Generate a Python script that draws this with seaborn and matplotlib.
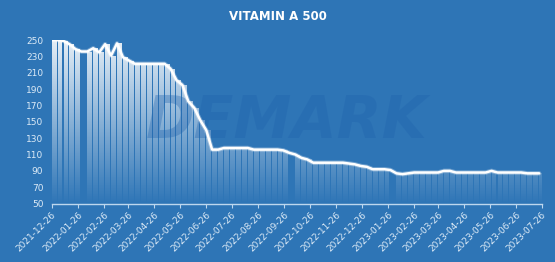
import numpy as np
import pandas as pd
import matplotlib
matplotlib.use('Agg')
import matplotlib.pyplot as plt
import matplotlib.dates as mdates
from matplotlib.path import Path
import seaborn as sns

title = "VITAMIN A 500"
start_date = "2021-12-26"
price = [250, 250, 249, 245, 239, 236, 236, 240, 235, 245, 231, 246, 229, 225, 221,
         221, 221, 221, 221, 221, 215, 201, 195, 175, 167, 152, 140, 116, 116,
         118, 118, 118, 118, 118, 116, 116, 116, 116, 116, 115, 112, 110, 106, 104,
         100, 100, 100, 100, 100, 100, 99, 98, 96, 95, 92, 92, 92, 91, 87, 86, 87,
         88, 88, 88, 88, 88, 90, 90, 88, 88, 88, 88, 88, 88, 90, 88, 88, 88, 88, 88,
         87, 87, 87]
missing_bar_dates = ["2022-01-30", "2022-10-02", "2023-01-29"]
tick_labels = ["2021-12-26", "2022-01-26", "2022-02-26", "2022-03-26", "2022-04-26",
               "2022-05-26", "2022-06-26", "2022-07-26", "2022-08-26", "2022-09-26",
               "2022-10-26", "2022-11-26", "2022-12-26", "2023-01-26", "2023-02-26",
               "2023-03-26", "2023-04-26", "2023-05-26", "2023-06-26", "2023-07-26"]
y_ticks = list(range(50, 251, 20))

BG = "#2E75B6"
TXT = "#DDEBF7"

sns.set_style("white", {"axes.facecolor": BG, "figure.facecolor": BG})
plt.rcParams['font.family'] = ['DejaVu Sans']

dates = pd.date_range(start_date, periods=len(price), freq="7D")
df = pd.DataFrame({"date": dates, "price": price})
missing = pd.to_datetime(missing_bar_dates)
bar_df = df[~df["date"].isin(missing)]

fig = plt.figure(figsize=(5.55, 2.62), dpi=100)
fig.patch.set_facecolor(BG)
ax = fig.add_axes([0.093, 0.223, 0.883, 0.624])
ax.set_facecolor(BG)

xmin = pd.Timestamp(tick_labels[0])
xmax = pd.Timestamp(tick_labels[-1])
ymin, ymax = 50, 250

bars = ax.bar(bar_df["date"], bar_df["price"] - ymin, bottom=ymin, width=5.8,
              align="edge", color="none", edgecolor="none", zorder=1)

# gradient fill clipped to bars
verts, codes = [], []
for r in bars.patches:
    x0, y0, w, h = r.get_x(), r.get_y(), r.get_width(), r.get_height()
    verts += [(x0, y0), (x0 + w, y0), (x0 + w, y0 + h), (x0, y0 + h), (x0, y0)]
    codes += [Path.MOVETO, Path.LINETO, Path.LINETO, Path.LINETO, Path.CLOSEPOLY]
clip = Path(verts, codes)
n = 256
alpha = np.linspace(0.0, 0.88, n)
grad = np.ones((n, 2, 4))
grad[:, :, 3] = alpha[:, None]
xn0, xn1 = mdates.date2num(xmin), mdates.date2num(xmax)
im = ax.imshow(grad, extent=[xn0 - 5, xn1 + 5, ymin, ymax], origin="lower",
               aspect="auto", zorder=1, interpolation="bilinear")
im.set_clip_path(clip, transform=ax.transData)

# watermark
ax.text(0.48, 0.50, "DEMARK", transform=ax.transAxes, ha="center", va="center",
        fontsize=42, fontweight="bold", style="italic", color="#1F62AD",
        alpha=0.35, zorder=2)

# line glow + line
ax.plot(df["date"], df["price"], color="white", lw=3.2, alpha=0.3, zorder=3)
sns.lineplot(data=df, x="date", y="price", ax=ax, color="white", lw=1.8, zorder=4)

ax.set_xlim(xmin, xmax)
ax.set_ylim(ymin, ymax)
ax.set_yticks(y_ticks)
ax.set_yticklabels([str(v) for v in y_ticks], fontsize=6.5, color=TXT)
ax.set_xticks(pd.to_datetime(tick_labels))
ax.set_xticklabels(tick_labels, rotation=45, ha="right", rotation_mode="anchor",
                   fontsize=6.5, color=TXT)
ax.set_xlabel("")
ax.set_ylabel("")
for s in ["top", "right", "left"]:
    ax.spines[s].set_visible(False)
ax.spines["bottom"].set_color("#BDD7EE")
ax.spines["bottom"].set_linewidth(1.0)
ax.tick_params(axis="x", length=3, width=0.8, color="#BDD7EE", pad=2, direction="out")
ax.tick_params(axis="y", length=0, pad=6)
ax.xaxis.set_tick_params(bottom=True)

fig.text(0.5, 0.937, title, ha="center", va="center", fontsize=8.5,
         fontweight="bold", color="white")

fig.savefig("out.png", dpi=100, facecolor=BG)
